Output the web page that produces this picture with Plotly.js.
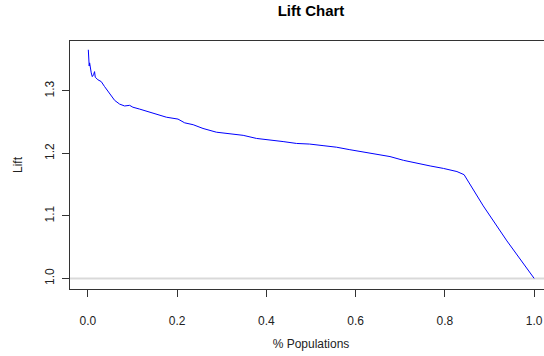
<!DOCTYPE html>
<html>
<head>
<meta charset="utf-8">
<script src="https://cdn.plot.ly/plotly-3.0.1.min.js"></script>
<style>
html,body{margin:0;padding:0;overflow:hidden;background:#fff;}
#chart{width:560px;height:356px;}
</style>
</head>
<body>
<div id="chart"></div>
<script>
// Data
var population = [0.001,0.0016,0.002,0.003,0.004,0.005,0.006,0.0076,0.0099,0.0128,0.015,0.0166,0.0224,0.030,0.0375,0.0487,0.060,0.0711,0.0823,0.0936,0.101,0.116,0.131,0.153,0.176,0.202,0.217,0.236,0.258,0.288,0.318,0.348,0.378,0.408,0.4375,0.4676,0.497,0.527,0.557,0.587,0.617,0.647,0.677,0.707,0.737,0.767,0.797,0.827,0.843,0.886,0.939,0.976,1.0];
var lift = [1.366,1.355,1.350,1.340,1.345,1.338,1.335,1.329,1.323,1.326,1.331,1.322,1.318,1.315,1.307,1.296,1.285,1.279,1.276,1.277,1.274,1.271,1.268,1.263,1.258,1.255,1.249,1.246,1.240,1.234,1.232,1.229,1.224,1.222,1.219,1.216,1.215,1.2125,1.210,1.206,1.202,1.199,1.195,1.189,1.184,1.180,1.176,1.171,1.166,1.116,1.060,1.024,1.000];
var xTicks = [0, 0.2, 0.4, 0.6, 0.8, 1.0];
var xTickLabels = ["0.0","0.2","0.4","0.6","0.8","1.0"];
var yTicks = [1.0, 1.1, 1.2, 1.3];
var yTickLabels = ["1.0","1.1","1.2","1.3"];
var baseline = 1.0;

var font = {family: "Liberation Sans, Arial, sans-serif", size: 12, color: "#222"};

var trace = {
  x: population, y: lift, type: "scatter", mode: "lines",
  line: {color: "#0000ff", width: 1}, hoverinfo: "skip", showlegend: false
};

var layout = {
  width: 560, height: 356,
  margin: {l: 70, r: 8, t: 41, b: 67},
  paper_bgcolor: "#fff", plot_bgcolor: "#fff",
  font: font,
  title: {text: "<b>Lift Chart</b>", font: {family: "Liberation Sans, Arial, sans-serif", size: 15, color: "#000"},
          x: 0.5, xref: "paper", xanchor: "center", y: 0.97, yref: "container", yanchor: "middle"},
  xaxis: {
    range: [-0.04, 1.04], tickvals: xTicks, ticktext: xTickLabels,
    showgrid: false, zeroline: false,
    showline: true, mirror: true, linecolor: "#333", linewidth: 1,
    ticks: "outside", ticklen: 7, tickcolor: "#333", tickwidth: 1,
    ticklabelstandoff: 14,
    title: {text: "% Populations", font: font, standoff: 12}
  },
  yaxis: {
    range: [0.983, 1.380], tickvals: yTicks, ticktext: yTickLabels,
    tickangle: -90,
    showgrid: false, zeroline: false,
    showline: true, mirror: true, linecolor: "#333", linewidth: 1,
    ticks: "outside", ticklen: 7, tickcolor: "#333", tickwidth: 1,
    ticklabelstandoff: 3,
    title: {text: "Lift", font: font, standoff: 18}
  },
  shapes: [{
    type: "line", xref: "paper", x0: 0, x1: 1, yref: "y", y0: baseline, y1: baseline,
    line: {color: "#d9d9d9", width: 2}, layer: "below"
  }]
};

Plotly.newPlot("chart", [trace], layout, {staticPlot: true, displayModeBar: false});
</script>
</body>
</html>
